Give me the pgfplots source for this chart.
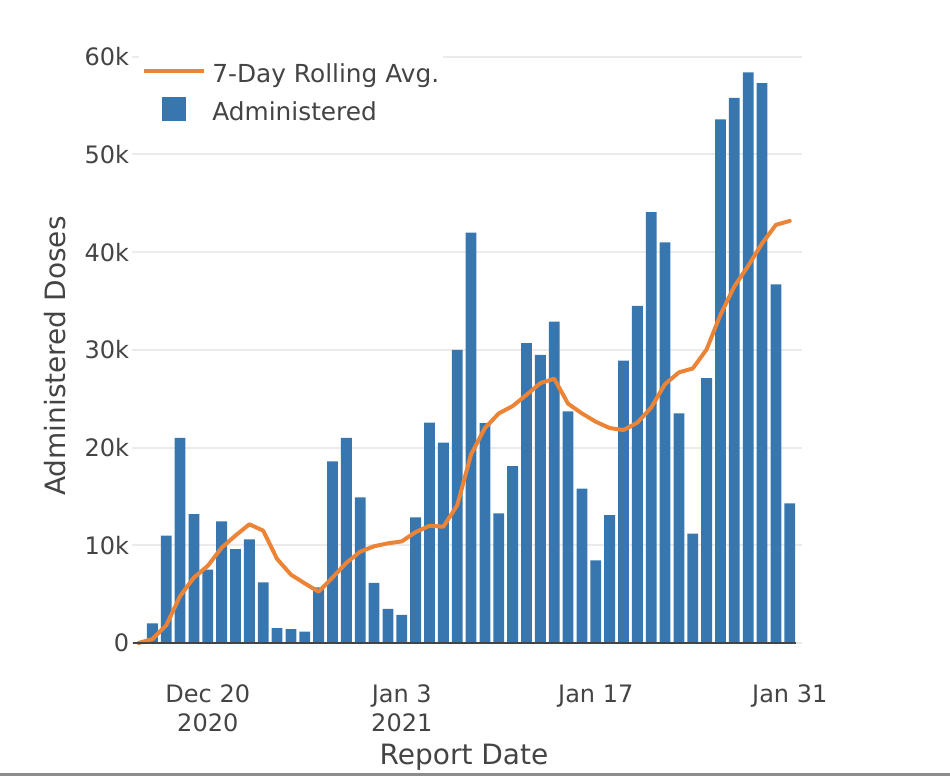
\documentclass[border=0pt]{standalone}
\usepackage{pgfplots}
\pgfplotsset{compat=1.18}
\usepackage{fontspec}
\setmainfont{DejaVu Sans}
\definecolor{barblue}{RGB}{56,118,175}
\definecolor{lineorange}{RGB}{235,132,55}
\definecolor{txt}{RGB}{68,68,68}
\definecolor{gridc}{RGB}{235,235,235}
\definecolor{zl}{RGB}{68,68,68}
\definecolor{framec}{RGB}{140,140,140}

\pgfplotstableread{
day doses
1 2000
2 11000
3 21000
4 13200
5 7500
6 12450
7 9600
8 10600
9 6200
10 1530
11 1430
12 1160
13 5700
14 18600
15 21000
16 14900
17 6150
18 3500
19 2870
20 12870
21 22550
22 20500
23 30000
24 42000
25 22500
26 13270
27 18100
28 30700
29 29500
30 32900
31 23700
32 15800
33 8460
34 13100
35 28900
36 34500
37 44100
38 41000
39 23500
40 11200
41 27100
42 53600
43 55800
44 58400
45 57300
46 36700
47 14300
}\dosestable

\pgfplotstableread{
day avg
0 0
1 400
2 1800
3 4800
4 6700
5 7900
6 9750
7 11000
8 12150
9 11500
10 8600
11 7000
12 6100
13 5250
14 6700
15 8200
16 9350
17 9900
18 10200
19 10400
20 11350
21 12000
22 11900
23 14100
24 19300
25 22000
26 23500
27 24250
28 25400
29 26600
30 27050
31 24500
32 23500
33 22650
34 22000
35 21800
36 22550
37 24100
38 26500
39 27700
40 28100
41 30050
42 33600
43 36500
44 38600
45 40900
46 42800
47 43200
}\avgtable

\begin{document}
\begin{tikzpicture}
\path[use as bounding box] (-69.25bp,-66.5bp) rectangle (405.75bp,321.5bp);
\fill[framec] (-69.25bp,-66.5bp) rectangle (405.75bp,-65bp);
\begin{axis}[
  at={(0,0)}, anchor=south west,
  scale only axis, width=328.75bp, height=299.45bp,
  xmin=0, xmax=47.45, ymin=0, ymax=61300,
  clip=false,
  axis line style={draw=none},
  xtick={5,19,33,47},
  xticklabels={{Dec 20\\2020},{Jan 3\\2021},{Jan 17},{Jan 31}},
  xtick style={draw=none},
  ytick={0,10000,20000,30000,40000,50000,60000},
  yticklabels={0,10k,20k,30k,40k,50k,60k},
  scaled y ticks=false,
  ymajorgrids,
  grid style={gridc, line width=1bp},
  ytick style={draw=gridc, line width=1bp},
  tick align=outside, major tick length=3bp,
  ticklabel style={font=\fontsize{12bp}{14.5bp}\selectfont, text=txt},
  xticklabel style={align=center, anchor=north, yshift=-14.5bp},
  yticklabel style={anchor=east, inner xsep=1.5bp},
  xlabel={Report Date}, ylabel={Administered Doses},
  label style={font=\fontsize{14bp}{16bp}\selectfont, text=txt},
  xlabel style={at={([yshift=-57bp]rel axis cs:0.495,0)}, anchor=center},
  ylabel style={at={([xshift=-41.75bp]rel axis cs:0,0.479)}, anchor=center},
  reverse legend,
  legend style={at={(rel axis cs:0,1)}, anchor=north west, fill=white, draw=none,
    inner xsep=1.75bp, inner ysep=4bp, row sep=0bp,
    font=\fontsize{12.4bp}{14.5bp}\selectfont, text=txt,
    nodes={inner sep=0pt, text depth=4bp, text height=15bp}},
  legend cell align=left,
]
\addplot[ybar, bar width=0.78, bar shift=0pt, fill=barblue, draw=none,
  legend image code/.code={\path[draw=none, fill=none] (0bp,-6bp) rectangle (30bp,6bp); \fill[barblue, draw=none] (9bp,-6bp) rectangle (21bp,6bp);}]
  table[x=day, y=doses] {\dosestable};
\addlegendentry{\hspace{3bp}Administered}
\addplot[lineorange, line width=2bp, line join=round, line cap=round, mark=none,
  legend image code/.code={\path[draw=none, fill=none] (0bp,-6bp) rectangle (30bp,6bp); \draw[lineorange, line width=2bp, line cap=butt] (0bp,0bp) -- (30bp,0bp);}]
  table[x=day, y=avg] {\avgtable};
\addlegendentry{\hspace{3bp}7-Day Rolling Avg.}
\draw[zl, line width=1bp] ([xshift=-2.75bp]axis cs:0,0) -- (axis cs:47.45,0);
\end{axis}
\end{tikzpicture}
\end{document}
